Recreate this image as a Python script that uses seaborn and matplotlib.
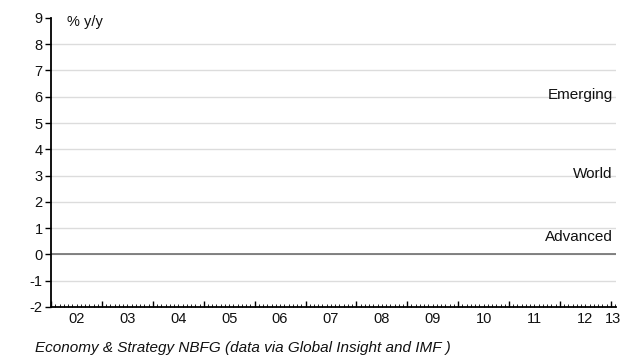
import numpy as np
import matplotlib
matplotlib.use("Agg")
import matplotlib.pyplot as plt
import matplotlib.ticker as mticker
import matplotlib.transforms as mtransforms
import seaborn as sns

# ── Data ─────────────────────────────────────────────────────────────────────
years      = list(range(2002, 2014))
year_lbls  = ["02", "03", "04", "05", "06", "07", "08", "09", "10", "11", "12", "13"]
x_end      = 2013.1
y_ticks    = list(range(-2, 10))
series     = ["Emerging", "World", "Advanced"]
series_lvl = [6.05, 3.05, 0.68]
unit_label = "% y/y"
source     = "Economy & Strategy NBFG (data via Global Insight and IMF )"

# ── Style ────────────────────────────────────────────────────────────────────
sns.set_theme(style="white")
plt.rcParams["font.family"] = ["Liberation Sans", "DejaVu Sans"]
TXT = "#111111"

fig = plt.figure(figsize=(6.31, 3.58), dpi=100)
ax = fig.add_axes([0.081, 0.1425, 0.895, 0.8075])

ax.set_xlim(years[0], x_end)
ax.set_ylim(y_ticks[0], y_ticks[-1])

# grid (no line at top tick) + zero line
for v in y_ticks[1:-1]:
    ax.axhline(v, color="#dcdcdc", lw=1.0, zorder=0)
ax.axhline(0, color="#6e6e6e", lw=1.2, zorder=1)

sns.despine(ax=ax)
for side in ("left", "bottom"):
    ax.spines[side].set_color("black")
    ax.spines[side].set_linewidth(1.3)

ax.set_yticks(y_ticks)
ax.set_yticklabels([str(v) for v in y_ticks], fontsize=10.5, color=TXT)
ax.tick_params(axis="y", which="major", direction="out", length=4, width=1,
               color="black", pad=2, left=True)

# year boundaries (major), months (minor), labels centred in each interval
ax.xaxis.set_major_locator(mticker.FixedLocator(years))
ax.xaxis.set_minor_locator(mticker.MultipleLocator(1 / 12))
ax.xaxis.set_major_formatter(mticker.NullFormatter())
ax.tick_params(axis="x", which="major", direction="in", length=4, width=1,
               color="black", bottom=True)
ax.tick_params(axis="x", which="minor", direction="in", length=2, width=0.6,
               color="black", bottom=True)

trans = mtransforms.blended_transform_factory(ax.transData, ax.transAxes)
for yr, lbl in zip(years, year_lbls):
    mid = (yr + min(yr + 1, x_end)) / 2
    ax.text(mid, -0.016, lbl, transform=trans, ha="center", va="top",
            fontsize=10.5, color=TXT)

# annotations
ax.text(2002.32, 9.12, unit_label, ha="left", va="top", fontsize=10.5,
        color=TXT, clip_on=False)
for name, lvl in zip(series, series_lvl):
    ax.text(2013.04, lvl, name, ha="right", va="center", fontsize=11, color=TXT)

fig.text(35 / 631, 1 - 348 / 358, source, ha="left", va="center",
         fontsize=11, style="italic", color=TXT)

fig.savefig("out.png", dpi=100)
